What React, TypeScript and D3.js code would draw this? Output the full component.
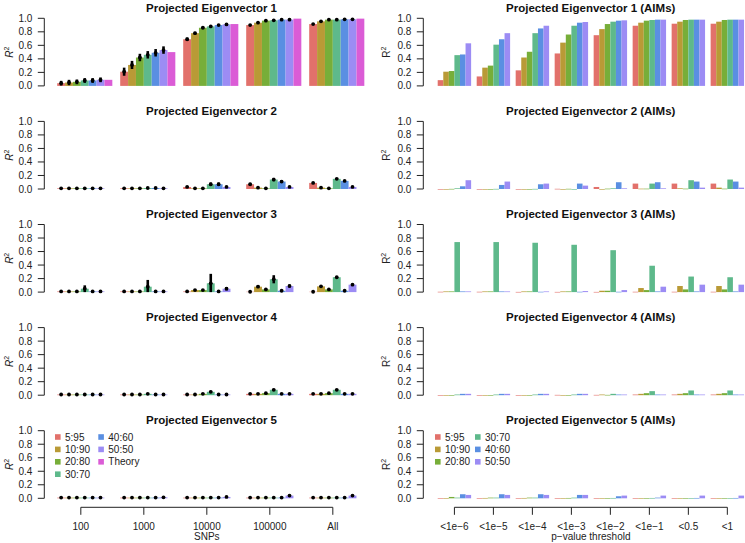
import React from "react";
import * as d3 from "d3";

const series = ["5:95", "10:90", "20:80", "30:70", "40:60", "50:50"];
const colors = ["#E2716B", "#B99A36", "#77AE39", "#5EB98B", "#5A8FE2", "#9C8CF4"];
const theoryColor = "#DB5CD6";
const snpGroups = ["100", "1000", "10000", "100000", "All"];
const pGroups = ["<1e-6", "<1e-5", "<1e-4", "<1e-3", "<1e-2", "<1e-1", "<0.5", "<1"];
const yTicks = [0, 0.2, 0.4, 0.6, 0.8, 1.0];

// Left panels: means per [panel][group][series]
const leftMeans = [
  [
    [0.04, 0.05, 0.06, 0.08, 0.08, 0.09],
    [0.21, 0.31, 0.42, 0.46, 0.49, 0.53],
    [0.69, 0.78, 0.86, 0.88, 0.9, 0.91],
    [0.9, 0.935, 0.965, 0.97, 0.98, 0.98],
    [0.915, 0.955, 0.98, 0.98, 0.985, 0.985],
  ],
  [
    [0.01, 0.01, 0.01, 0.01, 0.01, 0.01],
    [0.01, 0.01, 0.01, 0.015, 0.015, 0.01],
    [0.03, 0.01, 0.01, 0.07, 0.07, 0.03],
    [0.07, 0.02, 0.01, 0.14, 0.11, 0.03],
    [0.09, 0.02, 0.01, 0.15, 0.12, 0.03],
  ],
  [
    [0.01, 0.01, 0.01, 0.05, 0.01, 0.01],
    [0.01, 0.01, 0.01, 0.08, 0.01, 0.01],
    [0.01, 0.03, 0.03, 0.13, 0.01, 0.05],
    [0.005, 0.08, 0.04, 0.19, 0.02, 0.09],
    [0.005, 0.085, 0.04, 0.22, 0.02, 0.11],
  ],
  [
    [0.01, 0.01, 0.01, 0.01, 0.01, 0.01],
    [0.01, 0.01, 0.01, 0.02, 0.01, 0.01],
    [0.01, 0.01, 0.02, 0.05, 0.01, 0.01],
    [0.02, 0.02, 0.03, 0.08, 0.02, 0.02],
    [0.02, 0.02, 0.03, 0.08, 0.02, 0.02],
  ],
  [
    [0.01, 0.01, 0.01, 0.01, 0.01, 0.01],
    [0.01, 0.01, 0.01, 0.01, 0.01, 0.015],
    [0.01, 0.01, 0.01, 0.01, 0.01, 0.02],
    [0.01, 0.01, 0.01, 0.01, 0.01, 0.04],
    [0.01, 0.01, 0.01, 0.01, 0.01, 0.04],
  ],
];

const leftErr = [
  [
    [0.035, 0.04, 0.035, 0.035, 0.035, 0.035],
    [0.06, 0.06, 0.055, 0.055, 0.055, 0.055],
    [0.025, 0.02, 0.015, 0.01, 0.01, 0.01],
    [0.01, 0.008, 0.005, 0.005, 0.005, 0.005],
    [0.008, 0.006, 0.005, 0.005, 0.005, 0.005],
  ],
  [
    [0, 0, 0, 0, 0, 0],
    [0, 0, 0, 0.005, 0.005, 0],
    [0.015, 0, 0, 0.025, 0.025, 0.01],
    [0.02, 0, 0, 0.025, 0.02, 0.01],
    [0.008, 0, 0, 0.008, 0.008, 0.005],
  ],
  [
    [0, 0, 0, 0.05, 0, 0],
    [0, 0, 0, 0.1, 0, 0],
    [0, 0.01, 0.01, 0.14, 0, 0.025],
    [0, 0.02, 0.01, 0.06, 0, 0.02],
    [0, 0.008, 0.005, 0.008, 0, 0.008],
  ],
  [
    [0, 0, 0, 0, 0, 0],
    [0, 0, 0, 0.005, 0, 0],
    [0, 0, 0.005, 0.015, 0, 0],
    [0, 0, 0.005, 0.015, 0, 0],
    [0, 0, 0, 0.008, 0, 0],
  ],
  [
    [0, 0, 0, 0, 0, 0],
    [0, 0, 0, 0, 0, 0.005],
    [0, 0, 0, 0, 0, 0.01],
    [0, 0, 0, 0, 0, 0.01],
    [0, 0, 0, 0, 0, 0.008],
  ],
];

const leftTheory = [
  [0.09, 0.5, 0.915, 0.995, 0.995],
  [0, 0, 0, 0, 0],
  [0, 0, 0, 0, 0],
  [0, 0, 0, 0, 0],
  [0, 0, 0, 0, 0],
];

// Right panels (AIMs): [panel][group][series]
const rightValues = [
  [
    [0.085, 0.21, 0.22, 0.455, 0.465, 0.63],
    [0.14, 0.27, 0.3, 0.61, 0.69, 0.78],
    [0.23, 0.42, 0.505, 0.78, 0.85, 0.89],
    [0.48, 0.64, 0.76, 0.89, 0.935, 0.945],
    [0.75, 0.84, 0.915, 0.95, 0.965, 0.97],
    [0.89, 0.935, 0.965, 0.975, 0.98, 0.98],
    [0.92, 0.95, 0.975, 0.98, 0.98, 0.98],
    [0.92, 0.95, 0.975, 0.98, 0.98, 0.98],
  ],
  [
    [0.0, 0.0, 0.002, 0.01, 0.04, 0.13],
    [0.0, 0.0, 0.0, 0.002, 0.06, 0.11],
    [0.0, 0.0, 0.0, 0.002, 0.07, 0.08],
    [0.003, 0.0, 0.003, 0.0, 0.08, 0.05],
    [0.03, 0.0, 0.005, 0.01, 0.1, 0.01],
    [0.08, 0.005, 0.005, 0.08, 0.1, 0.01],
    [0.08, 0.01, 0.005, 0.13, 0.11, 0.02],
    [0.08, 0.02, 0.005, 0.14, 0.11, 0.02],
  ],
  [
    [0.005, 0.01, 0.01, 0.74, 0.01, 0.01],
    [0.005, 0.01, 0.01, 0.74, 0.01, 0.01],
    [0.003, 0.01, 0.01, 0.73, 0.005, 0.01],
    [0.003, 0.01, 0.01, 0.7, 0.005, 0.015],
    [0.003, 0.02, 0.02, 0.62, 0.005, 0.03],
    [0.005, 0.06, 0.03, 0.39, 0.01, 0.08],
    [0.005, 0.09, 0.04, 0.23, 0.01, 0.11],
    [0.005, 0.09, 0.04, 0.22, 0.01, 0.11],
  ],
  [
    [0.0, 0.0, 0.0, 0.01, 0.02, 0.02],
    [0.0, 0.0, 0.0, 0.01, 0.02, 0.02],
    [0.0, 0.0, 0.0, 0.01, 0.02, 0.02],
    [0.005, 0.0, 0.0, 0.01, 0.02, 0.02],
    [0.005, 0.01, 0.005, 0.02, 0.01, 0.01],
    [0.01, 0.02, 0.03, 0.06, 0.01, 0.01],
    [0.01, 0.02, 0.03, 0.07, 0.01, 0.01],
    [0.01, 0.02, 0.03, 0.07, 0.01, 0.01],
  ],
  [
    [0.0, 0.0, 0.02, 0.01, 0.06, 0.05],
    [0.0, 0.005, 0.01, 0.01, 0.06, 0.05],
    [0.0, 0.005, 0.01, 0.01, 0.06, 0.05],
    [0.0, 0.0, 0.005, 0.01, 0.05, 0.05],
    [0.0, 0.0, 0.0, 0.005, 0.03, 0.04],
    [0.0, 0.0, 0.0, 0.005, 0.01, 0.04],
    [0.0, 0.0, 0.0, 0.0, 0.005, 0.04],
    [0.0, 0.0, 0.0, 0.0, 0.005, 0.04],
  ],
];

const FONT = "'Liberation Sans', Arial, Helvetica, sans-serif";
const W = 745;
const H = 543;

const panelTop = (i: number) => 18.3 + i * 103.1;
const panelH = 67.6;

// left layout: unit bars, 7 per group + 1 gap
const leftUnit = 7.875;
const leftX0 = 57.2;
const rightUnit = 5.57;
const rightX0 = 437.7;

function YAxis({ y, x, italic }: { y: d3.ScaleLinear<number, number>; x: number; italic: boolean }) {
  const [y0, y1] = y.range();
  const mid = (y0 + y1) / 2;
  return (
    <g>
      <line x1={x} x2={x} y1={y(0)} y2={y(1)} stroke="#222" strokeWidth={1} />
      {yTicks.map((t) => (
        <g key={t}>
          <line x1={x - 6.5} x2={x} y1={y(t)} y2={y(t)} stroke="#222" strokeWidth={1} />
          <text x={x - 12} y={y(t)} dy="0.35em" textAnchor="end" fontSize={10} fontFamily={FONT} fill="#222">
            {d3.format(".1f")(t)}
          </text>
        </g>
      ))}
      <text
        transform={`translate(${italic ? x - 31 : x - 33.5},${mid}) rotate(-90)`}
        textAnchor="middle"
        fontSize={10}
        fontFamily={FONT}
        fill="#222"
      >
        <tspan fontStyle={italic ? "italic" : "normal"}>R</tspan>
        <tspan dy={-4} fontSize={7}>2</tspan>
      </text>
    </g>
  );
}

function LeftPanel({ i }: { i: number }) {
  const top = panelTop(i);
  const y = d3.scaleLinear().domain([0, 1]).range([top + panelH, top]);
  const x = d3.scaleLinear().domain([0, 1]).range([leftX0, leftX0 + leftUnit]);
  const bars: JSX.Element[] = [];
  const errs: JSX.Element[] = [];
  snpGroups.forEach((g, gi) => {
    leftMeans[i][gi].forEach((v, si) => {
      const u = gi * 8 + si;
      bars.push(
        <rect key={`b${gi}-${si}`} x={x(u)} y={y(v)} width={x(u + 1) - x(u)} height={y(0) - y(v)} fill={colors[si]} />
      );
      const e = leftErr[i][gi][si];
      const cx = x(u + 0.5);
      if (e > 0) {
        errs.push(
          <line key={`e${gi}-${si}`} x1={cx} x2={cx} y1={y(Math.max(0, v - e))} y2={y(v + e)} stroke="#000" strokeWidth={2.6} />
        );
      }
      errs.push(<circle key={`p${gi}-${si}`} cx={cx} cy={y(v)} r={1.9} fill="#000" />);
    });
    const tv = leftTheory[i][gi];
    if (tv > 0) {
      const u = gi * 8 + 6;
      bars.push(
        <rect key={`t${gi}`} x={x(u)} y={y(tv)} width={x(u + 1) - x(u)} height={y(0) - y(tv)} fill={theoryColor} />
      );
    }
  });
  return (
    <g>
      <text x={211.5} y={top - 6.3} textAnchor="middle" fontSize={11.5} fontWeight="bold" fontFamily={FONT} fill="#111">
        {`Projected Eigenvector ${i + 1}`}
      </text>
      <YAxis y={y} x={44.3} italic={true} />
      {bars}
      {errs}
    </g>
  );
}

function RightPanel({ i }: { i: number }) {
  const top = panelTop(i);
  const y = d3.scaleLinear().domain([0, 1]).range([top + panelH, top]);
  const x = d3.scaleLinear().domain([0, 1]).range([rightX0, rightX0 + rightUnit]);
  const bars: JSX.Element[] = [];
  pGroups.forEach((g, gi) => {
    rightValues[i][gi].forEach((v, si) => {
      const u = gi * 7 + si;
      bars.push(
        <rect key={`b${gi}-${si}`} x={x(u)} y={y(v)} width={x(u + 1) - x(u)} height={Math.max(0.6, y(0) - y(v))} y2={0} fill={colors[si]} />
      );
    });
  });
  return (
    <g>
      <text x={590.7} y={top - 6.3} textAnchor="middle" fontSize={11.5} fontWeight="bold" fontFamily={FONT} fill="#111">
        {`Projected Eigenvector ${i + 1} (AIMs)`}
      </text>
      <YAxis y={y} x={423.3} italic={false} />
      {bars}
    </g>
  );
}

function Legend({ items, cols, x0, x1, textOff }: { items: { label: string; color: string }[]; cols: number; x0: number; x1: number; textOff: number }) {
  const perCol = Math.ceil(items.length / cols);
  return (
    <g>
      {items.map((it, k) => {
        const c = Math.floor(k / perCol);
        const r = k % perCol;
        const sx = c === 0 ? x0 : x1;
        const cy = 437 + r * 12.4;
        return (
          <g key={it.label}>
            <rect x={sx} y={cy - 2.8} width={5.6} height={5.6} fill={it.color} />
            <text x={sx + textOff} y={cy} dy="0.35em" fontSize={10} fontFamily={FONT} fill="#222">
              {it.label}
            </text>
          </g>
        );
      })}
    </g>
  );
}

export default function App() {
  const axisY = 507.3;
  const xl = d3.scaleLinear().domain([0, 1]).range([leftX0, leftX0 + leftUnit]);
  const xr = d3.scaleLinear().domain([0, 1]).range([rightX0, rightX0 + rightUnit]);
  const leftTicks = snpGroups.map((g, gi) => ({ label: g, x: xl(gi * 8 + 3) }));
  const rightTicks = pGroups.map((g, gi) => ({ label: g, x: xr(gi * 7 + 3) }));
  const leftLegend = [
    ...series.map((s, k) => ({ label: s, color: colors[k] })),
    { label: "Theory", color: theoryColor },
  ];
  const rightLegend = series.map((s, k) => ({ label: s, color: colors[k] }));
  return (
    <svg width={W} height={H} style={{ position: "absolute", left: 0, top: 0, background: "#fff" }}>
      <rect x={0} y={0} width={W} height={H} fill="#fff" />
      {[0, 1, 2, 3, 4].map((i) => (
        <LeftPanel key={`l${i}`} i={i} />
      ))}
      {[0, 1, 2, 3, 4].map((i) => (
        <RightPanel key={`r${i}`} i={i} />
      ))}
      <Legend items={leftLegend} cols={2} x0={55} x1={98.3} textOff={10} />
      <Legend items={rightLegend} cols={2} x0={435} x1={475} textOff={10} />
      {/* left x axis */}
      <line x1={leftTicks[0].x} x2={leftTicks[leftTicks.length - 1].x} y1={axisY} y2={axisY} stroke="#222" />
      {leftTicks.map((t) => (
        <g key={t.label}>
          <line x1={t.x} x2={t.x} y1={axisY} y2={axisY + 7.5} stroke="#222" />
          <text x={t.x} y={529.5} textAnchor="middle" fontSize={10} fontFamily={FONT} fill="#222">
            {t.label}
          </text>
        </g>
      ))}
      <text x={leftTicks[2].x} y={539.5} textAnchor="middle" fontSize={10} fontFamily={FONT} fill="#222">
        SNPs
      </text>
      {/* right x axis */}
      <line x1={rightTicks[0].x} x2={rightTicks[rightTicks.length - 1].x} y1={axisY} y2={axisY} stroke="#222" />
      {rightTicks.map((t) => (
        <g key={t.label}>
          <line x1={t.x} x2={t.x} y1={axisY} y2={axisY + 7.5} stroke="#222" />
          <text x={t.x} y={529.5} textAnchor="middle" fontSize={10} fontFamily={FONT} fill="#222">
            {t.label.replace("-", "\u2212")}
          </text>
        </g>
      ))}
      <text x={(rightTicks[0].x + rightTicks[7].x) / 2} y={539.5} textAnchor="middle" fontSize={10} fontFamily={FONT} fill="#222">
        {"p\u2212value threshold"}
      </text>
    </svg>
  );
}
